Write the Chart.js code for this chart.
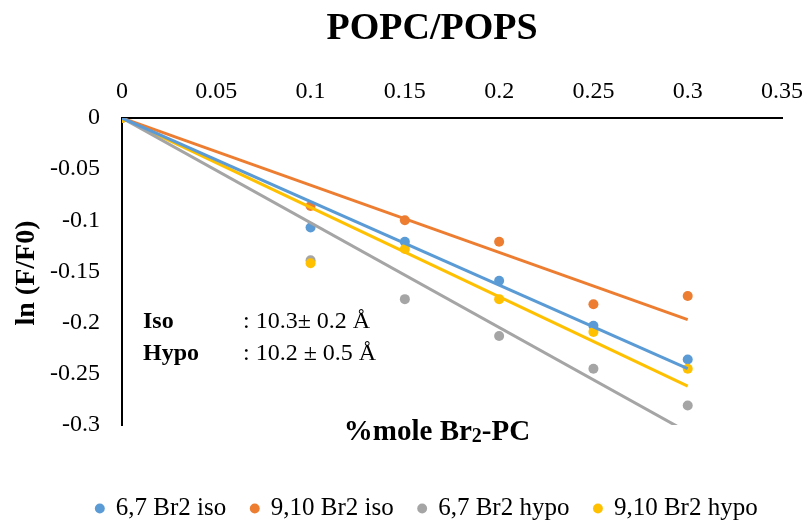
<!DOCTYPE html>
<html>
<head>
<meta charset="utf-8">
<script src="https://cdn.jsdelivr.net/npm/chart.js@4.4.1/dist/chart.umd.min.js"></script>
<style>
  html, body { margin: 0; padding: 0; background: #fff; }
  #wrap { width: 805px; height: 523px; }
</style>
</head>
<body>
<div id="wrap"><canvas id="grafico"></canvas></div>
<script>
// dados
const xValues = [0, 0.1, 0.15, 0.2, 0.25, 0.3];
const iso67 = [0, -0.107, -0.121, -0.159, -0.203, -0.236];
const iso910 = [0, -0.086, -0.100, -0.121, -0.182, -0.174];
const hypo67 = [0, -0.139, -0.177, -0.213, -0.245, -0.281];
const hypo910 = [0, -0.142, -0.128, -0.177, -0.209, -0.245];

const seriesNames = ['6,7 Br2 iso', '9,10 Br2 iso', '6,7 Br2 hypo', '9,10 Br2 hypo'];
const seriesColors = ['#5B9BD5', '#ED7D31', '#A5A5A5', '#FFC000'];

// linhas de tendência (passam pela origem), valor em x = 0.3
const trendX = [0, 0.3];
const trendEnds = [-0.245, -0.197, -0.307, -0.262];

const xTickValues = [0, 0.05, 0.1, 0.15, 0.2, 0.25, 0.3, 0.35];
const xTickLabels = ['0', '0.05', '0.1', '0.15', '0.2', '0.25', '0.3', '0.35'];
const yTickValues = [0, -0.05, -0.1, -0.15, -0.2, -0.25, -0.3];
const yTickLabels = ['0', '-0.05', '-0.1', '-0.15', '-0.2', '-0.25', '-0.3'];

const FONTE = "'Liberation Serif', 'Times New Roman', serif";

const allSeries = [iso67, iso910, hypo67, hypo910];

const pointSets = allSeries.map((ys, i) => ({
    label: seriesNames[i],
    data: xValues.map((x, k) => ({ x: x, y: ys[k] })),
    backgroundColor: seriesColors[i],
    borderColor: seriesColors[i],
    pointRadius: 5,
    pointBorderWidth: 0,
    pointHoverRadius: 5,
    showLine: false,
    order: 4 - i + 1
}));

const trendSets = trendEnds.map((end, i) => ({
    label: 'trend ' + seriesNames[i],
    data: [{ x: trendX[0], y: 0 }, { x: trendX[1], y: end }],
    borderColor: seriesColors[i],
    backgroundColor: seriesColors[i],
    borderWidth: 3,
    pointRadius: 0,
    showLine: true,
    order: 0
}));

// textos extras: título, títulos dos eixos e anotação
const textosPlugin = {
    id: 'textos',
    afterLayout(chart) {
        // a legenda do original fica um pouco à direita e mais abaixo
        const lg = chart.legend;
        lg.left += 36; lg.right += 36;
        lg.top += 8; lg.bottom += 8;
    },
    afterDraw(chart) {
        const c = chart.ctx;
        c.save();
        c.fillStyle = '#000';

        // título
        c.font = 'bold 38px ' + FONTE;
        c.textAlign = 'center';
        c.textBaseline = 'middle';
        c.fillText('POPC/POPS', 432, 29);

        // título do eixo y
        c.save();
        c.translate(27, 273);
        c.rotate(-Math.PI / 2);
        c.font = 'bold 28px ' + FONTE;
        c.fillText('ln (F/F0)', 0, 0);
        c.restore();

        // título do eixo x com subscrito
        c.textBaseline = 'alphabetic';
        c.textAlign = 'left';
        const partes = [['%mole Br', 29, 0], ['2', 20, 2], ['-PC', 29, 0]];
        let total = 0;
        partes.forEach(p => { c.font = 'bold ' + p[1] + 'px ' + FONTE; total += c.measureText(p[0]).width; });
        let px = 437 - total / 2;
        partes.forEach(p => {
            c.font = 'bold ' + p[1] + 'px ' + FONTE;
            c.fillText(p[0], px, 440 + p[2]);
            px += c.measureText(p[0]).width;
        });

        // anotação
        c.textBaseline = 'middle';
        c.font = 'bold 24px ' + FONTE;
        c.fillText('Iso', 143, 322);
        c.fillText('Hypo', 143, 354);
        c.font = '24px ' + FONTE;
        c.fillText(': 10.3\u00b1 0.2 \u00c5', 243, 322);
        c.fillText(': 10.2 \u00b1 0.5 \u00c5', 243, 354);
        c.restore();
    }
};

const ctx = document.getElementById('grafico').getContext('2d');

const grafico = new Chart(ctx, {
    type: 'scatter',
    data: { datasets: pointSets.concat(trendSets) },
    options: {
        responsive: true,
        maintainAspectRatio: false,
        animation: false,
        layout: { padding: { top: 0, right: 23, bottom: 0, left: 0 } },
        scales: {
            x: {
                type: 'linear',
                position: 'top',
                min: 0,
                max: 0.35,
                afterBuildTicks: axis => { axis.ticks = xTickValues.map(v => ({ value: v })); },
                afterFit: s => { s.height = 118; s.paddingLeft = 0; s.paddingRight = 0; },
                ticks: {
                    padding: 12,
                    color: '#000',
                    font: { family: FONTE, size: 24 },
                    maxRotation: 0,
                    callback: (v, i) => xTickLabels[i]
                },
                grid: { display: false, drawTicks: false },
                border: { display: true, color: '#000', width: 2 }
            },
            y: {
                type: 'linear',
                position: 'left',
                min: -0.3,
                max: 0,
                afterBuildTicks: axis => { axis.ticks = yTickValues.slice().reverse().map(v => ({ value: v })); },
                afterFit: s => { s.width = 122; },
                ticks: {
                    padding: 22,
                    color: '#000',
                    font: { family: FONTE, size: 24 },
                    callback: v => yTickLabels[yTickValues.findIndex(t => Math.abs(t - v) < 1e-9)]
                },
                grid: { display: false, drawTicks: false },
                border: { display: true, color: '#000', width: 2 }
            },
            // eixo vazio só para dar espaço entre o gráfico e a legenda
            x2: {
                type: 'linear',
                position: 'bottom',
                display: true,
                ticks: { display: false },
                grid: { display: false, drawTicks: false },
                border: { display: false },
                afterFit: s => { s.height = 38; s.paddingLeft = 0; s.paddingRight = 0; }
            }
        },
        plugins: {
            legend: {
                position: 'bottom',
                labels: {
                    usePointStyle: true,
                    pointStyle: 'circle',
                    boxWidth: 7,
                    boxHeight: 7,
                    padding: 25,
                    color: '#000',
                    font: { family: FONTE, size: 25 },
                    filter: item => item.datasetIndex < 4,
                    sort: (a, b) => a.datasetIndex - b.datasetIndex
                }
            },
            tooltip: { enabled: false }
        }
    },
    plugins: [textosPlugin]
});
</script>
</body>
</html>
